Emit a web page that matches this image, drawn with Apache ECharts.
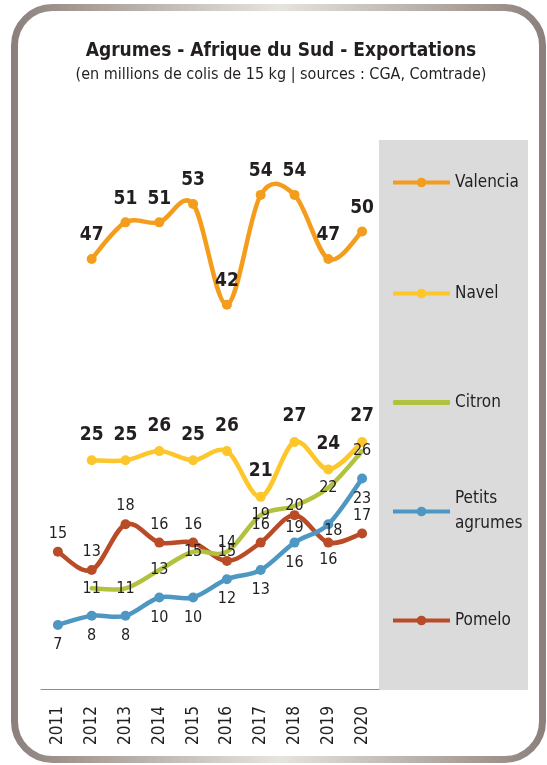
<!DOCTYPE html>
<html>
<head>
<meta charset="utf-8">
<script src="https://cdn.jsdelivr.net/npm/echarts@6/dist/echarts.min.js"></script>
<style>
  html, body { margin: 0; padding: 0; background: #ffffff; }
  #chart { width: 547px; height: 765px; }
</style>
</head>
<body>
<div id="chart"></div>
<script>
// Exportations d'agrumes d'Afrique du Sud, millions de colis de 15 kg
const years = ['2011', '2012', '2013', '2014', '2015', '2016', '2017', '2018', '2019', '2020'];
const valencia = [null, 47, 51, 51, 53, 42, 54, 54, 47, 50];
const navel = [null, 25, 25, 26, 25, 26, 21, 27, 24, 27];
const citron = [null, 11, 11, 13, 15, 15, 19, 20, 22, 26];
const petitsAgrumes = [7, 8, 8, 10, 10, 12, 13, 16, 18, 23];
const pomelo = [15, 13, 18, 16, 16, 14, 16, 19, 16, 17];

const FONT = "'DejaVu Sans Condensed', 'Liberation Sans Narrow', sans-serif";
const INK = '#231f20';
const LINE_WIDTH = 4.5;

const colors = {
  valencia: '#f49d1d',
  navel: '#fdc62a',
  citron: '#b3c23e',
  petits: '#4e97c2',
  pomelo: '#b94b27'
};

// Per-point label placement where neighbouring labels would collide
const pomeloLabelAt = {
  '2018': { position: 'bottom', distance: 0 },
  '2019': { position: 'bottom', distance: 4 }
};
const petitsLabelAt = {
  '2019': { position: 'inside', offset: [5, 7] }
};

function withLabels(values, overrides) {
  return values.map((v, i) => {
    const o = overrides[years[i]];
    return o ? { value: v, label: o } : v;
  });
}

// Markers and value labels; the connecting curve is drawn by curveSeries
function pointSeries(name, values, color, label, extra) {
  return Object.assign({
    name: name,
    type: 'line',
    data: values,
    z: 3,
    symbol: 'circle',
    symbolSize: 10,
    lineStyle: { width: LINE_WIDTH, color: color, opacity: 0 },
    itemStyle: { color: color },
    label: Object.assign({ show: true, color: INK, fontFamily: FONT }, label),
    emphasis: { disabled: true }
  }, extra || {});
}

// Smooth cardinal-spline curve through the points, placed with the axis scales
function curveSeries(name, values, color) {
  const TENSION = 1 / 6;
  const items = [];
  values.forEach((v, i) => { if (v != null) items.push([i, v]); });
  return {
    name: name + ' (courbe)',
    type: 'custom',
    z: 2,
    silent: true,
    data: items,
    encode: { x: 0, y: 1 },
    renderItem: function (params, api) {
      if (params.dataIndex !== 0) return;
      const pts = items.map(it => api.coord(it));
      let d = 'M' + pts[0][0] + ' ' + pts[0][1];
      for (let k = 0; k < pts.length - 1; k++) {
        const p0 = pts[k - 1] || pts[k];
        const p1 = pts[k];
        const p2 = pts[k + 1];
        const p3 = pts[k + 2] || pts[k + 1];
        const c1x = p1[0] + (p2[0] - p0[0]) * TENSION;
        const c1y = p1[1] + (p2[1] - p0[1]) * TENSION;
        const c2x = p2[0] - (p3[0] - p1[0]) * TENSION;
        const c2y = p2[1] - (p3[1] - p1[1]) * TENSION;
        d += ' C' + c1x + ' ' + c1y + ' ' + c2x + ' ' + c2y + ' ' + p2[0] + ' ' + p2[1];
      }
      return {
        type: 'path',
        shape: { pathData: d },
        style: { fill: null, stroke: color, lineWidth: LINE_WIDTH, lineCap: 'round', lineJoin: 'round' }
      };
    }
  };
}

const chart = echarts.init(document.getElementById('chart'), null, { renderer: 'canvas' });

function legendAt(name, top, color, extra) {
  return Object.assign({
    data: [name],
    left: 391,
    top: top,
    padding: 0,
    orient: 'vertical',
    itemWidth: 57,
    itemHeight: 12,
    itemGap: 0,
    selectedMode: false,
    lineStyle: { width: 4, color: color, opacity: 1 },
    textStyle: { fontFamily: FONT, fontSize: 17, color: INK }
  }, extra || {});
}

chart.setOption({
  animation: false,
  backgroundColor: '#ffffff',
  title: {
    text: 'Agrumes - Afrique du Sud - Exportations',
    subtext: '(en millions de colis de 15 kg | sources : CGA, Comtrade)',
    left: 281,
    top: 42,
    textAlign: 'center',
    padding: 0,
    itemGap: 6,
    textStyle: { fontFamily: FONT, fontWeight: 'bold', fontSize: 19, color: INK },
    subtextStyle: { fontFamily: FONT, fontSize: 16, color: INK }
  },
  graphic: [
    {
      type: 'rect',
      z: -10,
      shape: { x: 14.5, y: 7.5, width: 528, height: 752, r: 38 },
      style: {
        fill: '#ffffff',
        lineWidth: 7,
        stroke: new echarts.graphic.LinearGradient(0, 0, 1, 0, [
          { offset: 0, color: '#8a7f7b' },
          { offset: 0.1, color: '#a0968f' },
          { offset: 0.5, color: '#e6e4df' },
          { offset: 0.9, color: '#a0968f' },
          { offset: 1, color: '#8a7f7b' }
        ])
      }
    },
    {
      type: 'rect',
      z: -5,
      shape: { x: 379, y: 140, width: 149, height: 550 },
      style: { fill: '#dbdbdb' }
    }
  ],
  legend: [
    legendAt('Valencia', 174, colors.valencia),
    legendAt('Navel', 285, colors.navel),
    legendAt('Citron', 394, colors.citron, { left: 393, icon: 'roundRect', itemHeight: 5 }),
    legendAt('Petits agrumes', 474, colors.petits, {
      formatter: () => 'Petits\nagrumes',
      textStyle: { fontFamily: FONT, fontSize: 17, color: INK, lineHeight: 25, padding: [25, 0, 0, 0] }
    }),
    legendAt('Pomelo', 612, colors.pomelo)
  ],
  grid: { left: 41, right: 168, top: 140, bottom: 76, containLabel: false },
  xAxis: {
    type: 'category',
    data: years,
    boundaryGap: true,
    axisLine: { show: true, lineStyle: { color: '#8c8c8c', width: 1 } },
    axisTick: { show: false },
    axisLabel: {
      rotate: 90,
      margin: 17,
      fontFamily: FONT,
      fontSize: 17,
      color: INK,
      interval: 0
    },
    splitLine: { show: false }
  },
  yAxis: {
    type: 'value',
    min: 0,
    max: 60,
    show: false,
    splitLine: { show: false }
  },
  series: [
    curveSeries('Valencia', valencia, colors.valencia),
    curveSeries('Navel', navel, colors.navel),
    curveSeries('Pomelo', pomelo, colors.pomelo),
    curveSeries('Citron', citron, colors.citron),
    curveSeries('Petits agrumes', petitsAgrumes, colors.petits),
    pointSeries('Valencia', valencia, colors.valencia,
      { position: 'top', distance: 9, fontSize: 19, fontWeight: 'bold' }),
    pointSeries('Navel', navel, colors.navel,
      { position: 'top', distance: 11, fontSize: 19, fontWeight: 'bold' }),
    pointSeries('Pomelo', withLabels(pomelo, pomeloLabelAt), colors.pomelo,
      { position: 'top', distance: 5, fontSize: 16 }),
    pointSeries('Citron', citron, colors.citron,
      { position: 'inside', fontSize: 16 }, { symbolSize: 2 }),
    pointSeries('Petits agrumes', withLabels(petitsAgrumes, petitsLabelAt), colors.petits,
      { position: 'bottom', distance: 7, fontSize: 16 })
  ]
});
</script>
</body>
</html>
